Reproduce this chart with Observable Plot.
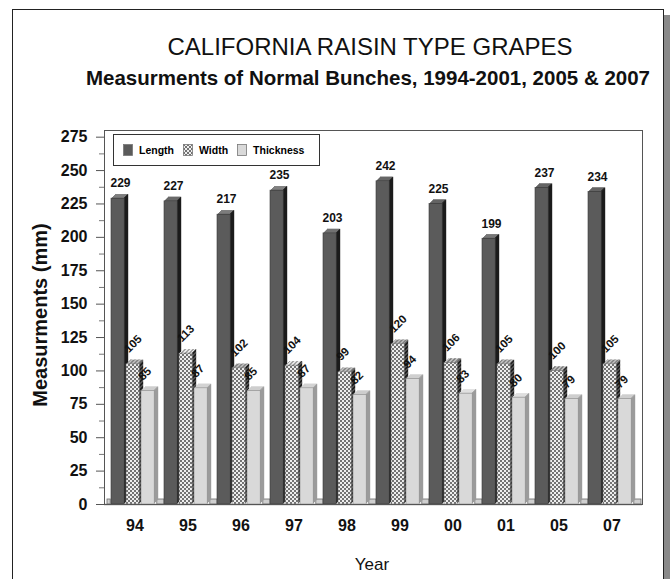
<!DOCTYPE html>
<html>
<head>
<meta charset="utf-8">
<script src="https://cdn.jsdelivr.net/npm/d3@7"></script>
<script src="https://cdn.jsdelivr.net/npm/@observablehq/plot@0.6"></script>
<style>
  html, body { margin: 0; padding: 0; background: #fff; overflow: hidden; }
  #wrap { position: relative; width: 670px; height: 579px; font-family: "Liberation Sans", Arial, sans-serif; }
  #outer { position: absolute; left: 12px; top: 9px; width: 650px; height: 620px; border: 1.5px solid #222; box-shadow: 6px 6px 0 #8a8a8a; background: #fff; }
  .t { position: absolute; white-space: nowrap; color: #111; }
  #title { left: 0; width: 740px; text-align: center; top: 34.5px; font-size: 24px; line-height: 24px; }
  #subtitle { left: 0; width: 736px; text-align: center; top: 67.5px; font-size: 20.5px; line-height: 20.5px; font-weight: bold; }
  #ylab { left: 40px; top: 315px; font-size: 20px; line-height: 20px; font-weight: bold; transform: translate(-50%, -50%) rotate(-90deg); }
  #xlab { left: 0; width: 744px; text-align: center; top: 555.5px; font-size: 17px; line-height: 17px; }
  #chart { position: absolute; left: 0; top: 0; }
  #legend { position: absolute; left: 113px; top: 134px; width: 205px; height: 30px; border: 1.5px solid #333; background: #fff; font-size: 10.5px; font-weight: bold; display: flex; align-items: center; }
  #legend .item { display: flex; align-items: center; margin-left: 9px; }
  #legend svg { margin-right: 6px; }
</style>
</head>
<body>
<div id="wrap">
  <div id="outer"></div>
  <div id="chart"></div>
  <div class="t" id="title">CALIFORNIA RAISIN TYPE GRAPES</div>
  <div class="t" id="subtitle">Measurments of Normal Bunches, 1994-2001, 2005 &amp; 2007</div>
  <div class="t" id="ylab">Measurments (mm)</div>
  <div class="t" id="xlab">Year</div>
  <div id="legend"></div>
</div>
<script>
// ---- data ----
const years = ["94", "95", "96", "97", "98", "99", "00", "01", "05", "07"];
const lengthValues = [229, 227, 217, 235, 203, 242, 225, 199, 237, 234];
const widthValues = [105, 113, 102, 104, 99, 120, 106, 105, 100, 105];
const thicknessValues = [85, 87, 85, 87, 82, 94, 83, 80, 79, 79];
const seriesNames = ["Length", "Width", "Thickness"];
const yTicks = [0, 25, 50, 75, 100, 125, 150, 175, 200, 225, 250, 275];
const yMinorTicks = [12.5, 37.5, 62.5, 87.5, 112.5, 137.5, 162.5, 187.5, 212.5, 237.5, 262.5];

const rows = years.map((year, i) => ({
  year,
  length: lengthValues[i],
  width: widthValues[i],
  thickness: thicknessValues[i]
}));

// ---- layout ----
const W = 670, H = 579;
const mL = 104, mR = 28, mT = 130, mB = 75;
const step = (W - mL - mR) / years.length;
const barW = 14;
const depth = 4;

const series = [
  {key: "length", left: 3, front: "#5b5b5b", top: "#8d8d8d", side: "#1c1c1c", stroke: "#3a3a3a"},
  {key: "width", left: 18, front: "url(#chk)", top: "url(#chkTop)", side: "url(#chkSide)", stroke: "#777"},
  {key: "thickness", left: 33, front: "#d9d9d9", top: "#ebebeb", side: "#9c9c9c", stroke: "#8a8a8a"}
];

const marks = [];

// floor stubs
marks.push(Plot.barY(rows, {x: "year", y1: () => 0, y2: () => 0, insetTop: -5, insetLeft: step - 5, insetRight: -3, fill: "#cfcfcf", stroke: "#6a6a6a", strokeWidth: 0.8}));
marks.push(Plot.barY(rows.slice(0, 1), {x: "year", y1: () => 0, y2: () => 0, insetTop: -5, insetLeft: -1, insetRight: step - 3, fill: "#cfcfcf", stroke: "#6a6a6a", strokeWidth: 0.8}));
marks.push(Plot.ruleY([0], {stroke: "#8a8a8a", strokeWidth: 1.5}));

for (const s of series) {
  const insetLeft = s.left;
  const insetRight = step - s.left - barW;
  for (let k = depth; k >= 1; k--) {
    marks.push(Plot.barY(rows, {x: "year", y: s.key, insetLeft, insetRight, dx: k, dy: -k, fill: s.side}));
    marks.push(Plot.barY(rows, {x: "year", y1: s.key, y2: s.key, insetBottom: -1, insetLeft, insetRight: insetRight + 1, dx: k, dy: -k, fill: s.top}));
  }
  marks.push(Plot.barY(rows, {x: "year", y: s.key, insetLeft, insetRight, fill: s.front, stroke: s.stroke, strokeWidth: 0.6}));
}

// value labels
marks.push(Plot.text(rows, {x: "year", y: "length", text: d => String(d.length), dx: -14.5, dy: -15, fontSize: 12, fontWeight: "bold", fill: "#111"}));
marks.push(Plot.text(rows, {x: "year", y: "width", text: d => String(d.width), dx: -6, dy: -11, rotate: -45, textAnchor: "start", lineAnchor: "bottom", fontSize: 11.5, fontWeight: "bold", fill: "#111"}));
marks.push(Plot.text(rows, {x: "year", y: "thickness", text: d => String(d.thickness), dx: 8, dy: -10, rotate: -45, textAnchor: "start", lineAnchor: "bottom", fontSize: 11.5, fontWeight: "bold", fill: "#111"}));

// axes
marks.push(Plot.axisY({ticks: yTicks, tickSize: 8, tickPadding: 9, fontSize: 16, fontWeight: "bold", label: null, stroke: "#555", fill: "#111"}));
marks.push(Plot.axisY({ticks: yMinorTicks, tickSize: 5, text: null, label: null, stroke: "#777"}));
marks.push(Plot.axisX({tickSize: 0, tickPadding: 15, fontSize: 16, fontWeight: "bold", label: null, fill: "#111"}));
marks.push(Plot.frame({stroke: "#555", strokeWidth: 1}));

const chart = Plot.plot({
  width: W,
  height: H,
  marginLeft: mL,
  marginRight: mR,
  marginTop: mT,
  marginBottom: mB,
  style: {fontFamily: "'Liberation Sans', Arial, sans-serif", background: "transparent", overflow: "visible"},
  x: {domain: years, padding: 0, axis: null},
  y: {domain: [0, 280], axis: null},
  marks
});

// patterns
const defs = document.createElementNS("http://www.w3.org/2000/svg", "defs");
function pattern(id, c1, c2) {
  return `<pattern id="${id}" patternUnits="userSpaceOnUse" width="4" height="4"><rect width="4" height="4" fill="${c1}"/><rect width="2" height="2" fill="${c2}"/><rect x="2" y="2" width="2" height="2" fill="${c2}"/></pattern>`;
}
defs.innerHTML = pattern("chk", "#eeeeee", "#737373") + pattern("chkTop", "#f6f6f6", "#b0b0b0") + pattern("chkSide", "#555", "#1a1a1a");
chart.insertBefore(defs, chart.firstChild);
document.getElementById("chart").appendChild(chart);

// legend
const legendFills = ["#5b5b5b", "url(#lchk1)", "#d9d9d9"];
const legend = document.getElementById("legend");
seriesNames.forEach((name, i) => {
  const item = document.createElement("div");
  item.className = "item";
  item.innerHTML = `<svg width="10" height="12"><defs>${pattern("lchk" + i, "#eeeeee", "#737373")}</defs><rect x="0.5" y="0.5" width="9" height="11" fill="${legendFills[i]}" stroke="#777" stroke-width="0.8"/></svg><span>${name}</span>`;
  legend.appendChild(item);
});
</script>
</body>
</html>
